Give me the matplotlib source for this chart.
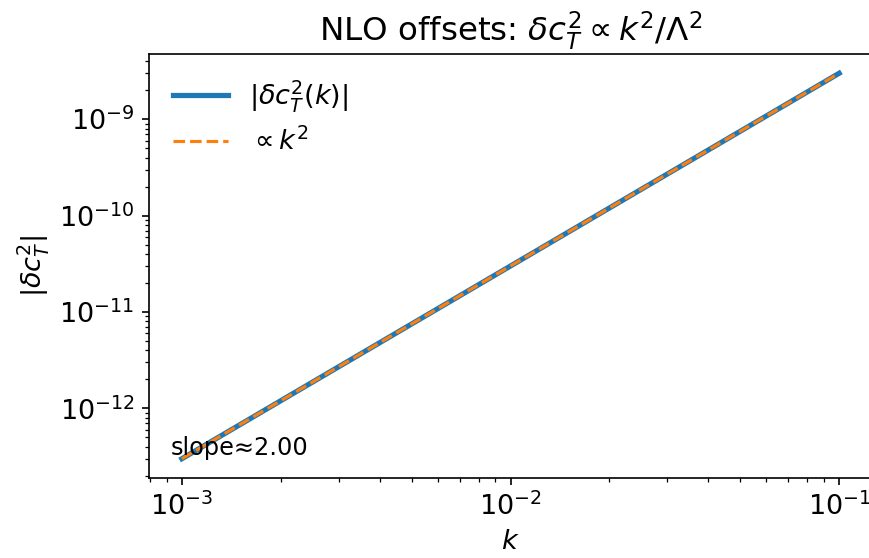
import matplotlib
matplotlib.use('Agg')
import matplotlib.pyplot as plt

# values (log-log straight line)
k = [1e-3, 2e-3, 5e-3, 1e-2, 2e-2, 5e-2, 1e-1]
dc2 = [3.0e-13, 1.2e-12, 7.5e-12, 3.0e-11, 1.2e-10, 7.5e-10, 3.0e-9]
fit = [3.0e-13, 1.2e-12, 7.5e-12, 3.0e-11, 1.2e-10, 7.5e-10, 3.0e-9]
slope_text = 'slope≈2.00'

plt.rcParams['font.size'] = 13

fig = plt.figure(figsize=(869 / 150, 558 / 150), dpi=150)
# axes runs a little past the right edge, as in the reference
ax = fig.add_axes([149 / 869, 1 - 478 / 558, 723 / 869, 424 / 558])

ax.loglog(k, dc2, lw=2.5, label=r'$|\delta c_T^2(k)|$')
ax.loglog(k, fit, '--', lw=1.5, label=r'$\propto k^2$')
ax.set_xlabel(r'$k$')
ax.set_ylabel(r'$|\delta c_T^2|$')
ax.set_title(r'NLO offsets: $\delta c_T^2 \propto k^2/\Lambda^2$')
ax.legend(frameon=False, loc='upper left')
ax.text(0.03, 0.054, slope_text, transform=ax.transAxes, fontsize=11.5)

fig.savefig('out.png', dpi=150)
